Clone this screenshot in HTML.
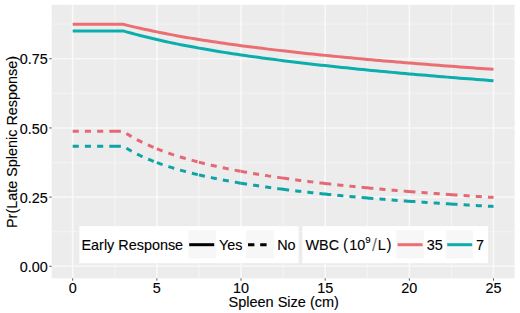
<!DOCTYPE html>
<html><head><meta charset="utf-8"><style>
html,body{margin:0;padding:0;background:#fff;}
svg{display:block;}
text{font-family:"Liberation Sans",sans-serif;stroke:#000;stroke-width:0.12px;}
</style></head><body>
<svg width="520" height="313" viewBox="0 0 520 313">
<rect x="51.66" y="4.8" width="462.90" height="273.50" fill="#ECECEC"/>
<g stroke-width="1.2" fill="none"><line x1="51.66" x2="514.56" y1="231.71" y2="231.71" stroke="#F2F2F2"/><line x1="51.66" x2="514.56" y1="162.54" y2="162.54" stroke="#F2F2F2"/><line x1="51.66" x2="514.56" y1="93.36" y2="93.36" stroke="#F2F2F2"/><line x1="51.66" x2="514.56" y1="24.19" y2="24.19" stroke="#F2F2F2"/><line x1="114.78" x2="114.78" y1="4.8" y2="278.3" stroke="#F4F4F4"/><line x1="198.94" x2="198.94" y1="4.8" y2="278.3" stroke="#F4F4F4"/><line x1="283.10" x2="283.10" y1="4.8" y2="278.3" stroke="#F4F4F4"/><line x1="367.26" x2="367.26" y1="4.8" y2="278.3" stroke="#F4F4F4"/><line x1="451.42" x2="451.42" y1="4.8" y2="278.3" stroke="#F4F4F4"/></g>
<g stroke-width="1.6" fill="none"><line x1="51.66" x2="514.56" y1="266.30" y2="266.30" stroke="#F7F7F7"/><line x1="51.66" x2="514.56" y1="197.12" y2="197.12" stroke="#F7F7F7"/><line x1="51.66" x2="514.56" y1="127.95" y2="127.95" stroke="#F7F7F7"/><line x1="51.66" x2="514.56" y1="58.78" y2="58.78" stroke="#F7F7F7"/><line x1="72.70" x2="72.70" y1="4.8" y2="278.3" stroke="#F9F9F9"/><line x1="156.86" x2="156.86" y1="4.8" y2="278.3" stroke="#F9F9F9"/><line x1="241.02" x2="241.02" y1="4.8" y2="278.3" stroke="#F9F9F9"/><line x1="325.18" x2="325.18" y1="4.8" y2="278.3" stroke="#F9F9F9"/><line x1="409.34" x2="409.34" y1="4.8" y2="278.3" stroke="#F9F9F9"/><line x1="493.50" x2="493.50" y1="4.8" y2="278.3" stroke="#F9F9F9"/></g>
<path d="M72.70,131.35 L74.38,131.35 L76.07,131.35 L77.75,131.35 L79.43,131.35 L81.12,131.35 L82.80,131.35 L84.48,131.35 L86.17,131.35 L87.85,131.35 L89.53,131.35 L91.22,131.35 L92.90,131.35 L94.58,131.35 L96.26,131.35 L97.95,131.35 L99.63,131.35 L101.31,131.35 L103.00,131.35 L104.68,131.35 L106.36,131.35 L108.05,131.35 L109.73,131.35 L111.41,131.35 L113.10,131.35 L114.78,131.35 M114.78,131.35 L116.46,131.35 L118.15,131.35 L119.83,131.35 L121.51,131.35 L123.20,131.35 L124.88,132.47 L126.56,133.57 L128.25,134.62 L129.93,135.65 L131.61,136.64 L133.30,137.61 L134.98,138.55 L136.66,139.46 L138.34,140.35 L140.03,141.21 L141.71,142.06 L143.39,142.88 L145.08,143.68 L146.76,144.46 L148.44,145.22 L150.13,145.97 L151.81,146.69 L153.49,147.40 L155.18,148.10 L156.86,148.78 M156.86,148.78 L158.54,149.45 L160.23,150.10 L161.91,150.74 L163.59,151.36 L165.28,151.98 L166.96,152.58 L168.64,153.17 L170.33,153.75 L172.01,154.31 L173.69,154.87 L175.38,155.42 L177.06,155.96 L178.74,156.49 L180.42,157.00 L182.11,157.51 L183.79,158.02 L185.47,158.51 L187.16,158.99 L188.84,159.47 L190.52,159.94 L192.21,160.40 L193.89,160.86 L195.57,161.30 L197.26,161.75 L198.94,162.18 M198.94,162.18 L200.62,162.61 L202.31,163.03 L203.99,163.45 L205.67,163.85 L207.36,164.26 L209.04,164.66 L210.72,165.05 L212.41,165.44 L214.09,165.82 L215.77,166.19 L217.46,166.57 L219.14,166.93 L220.82,167.30 L222.50,167.65 L224.19,168.01 L225.87,168.35 L227.55,168.70 L229.24,169.04 L230.92,169.37 L232.60,169.71 L234.29,170.03 L235.97,170.36 L237.65,170.68 L239.34,170.99 L241.02,171.30 M241.02,171.30 L242.70,171.61 L244.39,171.92 L246.07,172.22 L247.75,172.52 L249.44,172.81 L251.12,173.11 L252.80,173.40 L254.49,173.68 L256.17,173.96 L257.85,174.24 L259.54,174.52 L261.22,174.79 L262.90,175.06 L264.58,175.33 L266.27,175.60 L267.95,175.86 L269.63,176.12 L271.32,176.38 L273.00,176.63 L274.68,176.88 L276.37,177.13 L278.05,177.38 L279.73,177.63 L281.42,177.87 L283.10,178.11 M283.10,178.11 L284.78,178.35 L286.47,178.58 L288.15,178.82 L289.83,179.05 L291.52,179.28 L293.20,179.51 L294.88,179.73 L296.57,179.96 L298.25,180.18 L299.93,180.40 L301.62,180.61 L303.30,180.83 L304.98,181.04 L306.66,181.26 L308.35,181.47 L310.03,181.67 L311.71,181.88 L313.40,182.08 L315.08,182.29 L316.76,182.49 L318.45,182.69 L320.13,182.89 L321.81,183.08 L323.50,183.28 L325.18,183.47 M325.18,183.47 L326.86,183.66 L328.55,183.85 L330.23,184.04 L331.91,184.23 L333.60,184.42 L335.28,184.60 L336.96,184.78 L338.65,184.97 L340.33,185.15 L342.01,185.33 L343.70,185.50 L345.38,185.68 L347.06,185.85 L348.74,186.03 L350.43,186.20 L352.11,186.37 L353.79,186.54 L355.48,186.71 L357.16,186.88 L358.84,187.04 L360.53,187.21 L362.21,187.37 L363.89,187.53 L365.58,187.70 L367.26,187.86 M367.26,187.86 L368.94,188.02 L370.63,188.17 L372.31,188.33 L373.99,188.49 L375.68,188.64 L377.36,188.80 L379.04,188.95 L380.73,189.10 L382.41,189.25 L384.09,189.40 L385.78,189.55 L387.46,189.70 L389.14,189.85 L390.82,189.99 L392.51,190.14 L394.19,190.28 L395.87,190.43 L397.56,190.57 L399.24,190.71 L400.92,190.85 L402.61,190.99 L404.29,191.13 L405.97,191.27 L407.66,191.40 L409.34,191.54 M409.34,191.54 L411.02,191.67 L412.71,191.81 L414.39,191.94 L416.07,192.08 L417.76,192.21 L419.44,192.34 L421.12,192.47 L422.81,192.60 L424.49,192.73 L426.17,192.86 L427.86,192.98 L429.54,193.11 L431.22,193.24 L432.90,193.36 L434.59,193.49 L436.27,193.61 L437.95,193.73 L439.64,193.86 L441.32,193.98 L443.00,194.10 L444.69,194.22 L446.37,194.34 L448.05,194.46 L449.74,194.58 L451.42,194.70 M451.42,194.70 L453.10,194.81 L454.79,194.93 L456.47,195.05 L458.15,195.16 L459.84,195.27 L461.52,195.39 L463.20,195.50 L464.89,195.61 L466.57,195.73 L468.25,195.84 L469.94,195.95 L471.62,196.06 L473.30,196.17 L474.98,196.28 L476.67,196.39 L478.35,196.50 L480.03,196.60 L481.72,196.71 L483.40,196.82 L485.08,196.92 L486.77,197.03 L488.45,197.13 L490.13,197.24 L491.82,197.34 L493.50,197.44" fill="none" stroke="#E36A74" stroke-width="3.0" stroke-dasharray="6.1 6.1"/>
<path d="M72.70,146.16 L74.38,146.16 L76.07,146.16 L77.75,146.16 L79.43,146.16 L81.12,146.16 L82.80,146.16 L84.48,146.16 L86.17,146.16 L87.85,146.16 L89.53,146.16 L91.22,146.16 L92.90,146.16 L94.58,146.16 L96.26,146.16 L97.95,146.16 L99.63,146.16 L101.31,146.16 L103.00,146.16 L104.68,146.16 L106.36,146.16 L108.05,146.16 L109.73,146.16 L111.41,146.16 L113.10,146.16 L114.78,146.16 M114.78,146.16 L116.46,146.16 L118.15,146.16 L119.83,146.16 L121.51,146.16 L123.20,146.16 L124.88,147.23 L126.56,148.27 L128.25,149.27 L129.93,150.25 L131.61,151.19 L133.30,152.10 L134.98,152.99 L136.66,153.84 L138.34,154.68 L140.03,155.49 L141.71,156.28 L143.39,157.05 L145.08,157.80 L146.76,158.53 L148.44,159.25 L150.13,159.94 L151.81,160.62 L153.49,161.28 L155.18,161.93 L156.86,162.56 M156.86,162.56 L158.54,163.18 L160.23,163.79 L161.91,164.38 L163.59,164.96 L165.28,165.53 L166.96,166.08 L168.64,166.63 L170.33,167.16 L172.01,167.68 L173.69,168.20 L175.38,168.70 L177.06,169.20 L178.74,169.68 L180.42,170.16 L182.11,170.63 L183.79,171.09 L185.47,171.54 L187.16,171.99 L188.84,172.43 L190.52,172.86 L192.21,173.28 L193.89,173.69 L195.57,174.10 L197.26,174.51 L198.94,174.90 M198.94,174.90 L200.62,175.29 L202.31,175.68 L203.99,176.06 L205.67,176.43 L207.36,176.80 L209.04,177.16 L210.72,177.52 L212.41,177.87 L214.09,178.22 L215.77,178.56 L217.46,178.90 L219.14,179.23 L220.82,179.56 L222.50,179.88 L224.19,180.20 L225.87,180.52 L227.55,180.83 L229.24,181.14 L230.92,181.44 L232.60,181.74 L234.29,182.04 L235.97,182.33 L237.65,182.62 L239.34,182.91 L241.02,183.19 M241.02,183.19 L242.70,183.47 L244.39,183.74 L246.07,184.02 L247.75,184.29 L249.44,184.55 L251.12,184.81 L252.80,185.07 L254.49,185.33 L256.17,185.59 L257.85,185.84 L259.54,186.09 L261.22,186.33 L262.90,186.58 L264.58,186.82 L266.27,187.06 L267.95,187.29 L269.63,187.53 L271.32,187.76 L273.00,187.99 L274.68,188.21 L276.37,188.44 L278.05,188.66 L279.73,188.88 L281.42,189.10 L283.10,189.31 M283.10,189.31 L284.78,189.52 L286.47,189.74 L288.15,189.95 L289.83,190.15 L291.52,190.36 L293.20,190.56 L294.88,190.76 L296.57,190.96 L298.25,191.16 L299.93,191.36 L301.62,191.55 L303.30,191.74 L304.98,191.94 L306.66,192.12 L308.35,192.31 L310.03,192.50 L311.71,192.68 L313.40,192.86 L315.08,193.05 L316.76,193.23 L318.45,193.40 L320.13,193.58 L321.81,193.76 L323.50,193.93 L325.18,194.10 M325.18,194.10 L326.86,194.27 L328.55,194.44 L330.23,194.61 L331.91,194.78 L333.60,194.94 L335.28,195.11 L336.96,195.27 L338.65,195.43 L340.33,195.59 L342.01,195.75 L343.70,195.91 L345.38,196.07 L347.06,196.22 L348.74,196.38 L350.43,196.53 L352.11,196.68 L353.79,196.83 L355.48,196.98 L357.16,197.13 L358.84,197.28 L360.53,197.42 L362.21,197.57 L363.89,197.71 L365.58,197.86 L367.26,198.00 M367.26,198.00 L368.94,198.14 L370.63,198.28 L372.31,198.42 L373.99,198.56 L375.68,198.70 L377.36,198.83 L379.04,198.97 L380.73,199.10 L382.41,199.24 L384.09,199.37 L385.78,199.50 L387.46,199.63 L389.14,199.76 L390.82,199.89 L392.51,200.02 L394.19,200.15 L395.87,200.27 L397.56,200.40 L399.24,200.52 L400.92,200.65 L402.61,200.77 L404.29,200.89 L405.97,201.02 L407.66,201.14 L409.34,201.26 M409.34,201.26 L411.02,201.38 L412.71,201.50 L414.39,201.61 L416.07,201.73 L417.76,201.85 L419.44,201.96 L421.12,202.08 L422.81,202.19 L424.49,202.31 L426.17,202.42 L427.86,202.53 L429.54,202.65 L431.22,202.76 L432.90,202.87 L434.59,202.98 L436.27,203.09 L437.95,203.20 L439.64,203.30 L441.32,203.41 L443.00,203.52 L444.69,203.62 L446.37,203.73 L448.05,203.83 L449.74,203.94 L451.42,204.04 M451.42,204.04 L453.10,204.15 L454.79,204.25 L456.47,204.35 L458.15,204.45 L459.84,204.55 L461.52,204.65 L463.20,204.75 L464.89,204.85 L466.57,204.95 L468.25,205.05 L469.94,205.15 L471.62,205.24 L473.30,205.34 L474.98,205.44 L476.67,205.53 L478.35,205.63 L480.03,205.72 L481.72,205.82 L483.40,205.91 L485.08,206.00 L486.77,206.09 L488.45,206.19 L490.13,206.28 L491.82,206.37 L493.50,206.46" fill="none" stroke="#0FA3A6" stroke-width="3.0" stroke-dasharray="6.1 6.1"/>
<path d="M72.70,24.28 L123.20,24.28 L127.40,25.35 L131.61,26.37 L135.82,27.34 L140.03,28.28 L144.24,29.18 L148.44,30.05 L152.65,30.96 L156.86,31.85 L161.07,32.70 L165.28,33.54 L169.48,34.35 L173.69,35.14 L177.90,35.91 L182.11,36.66 L186.32,37.40 L190.52,38.11 L194.73,38.81 L198.94,39.50 L203.15,40.17 L207.36,40.83 L211.56,41.47 L215.77,42.10 L219.98,42.72 L224.19,43.33 L228.40,43.93 L232.60,44.51 L236.81,45.09 L241.02,45.66 L245.23,46.21 L249.44,46.76 L253.64,47.30 L257.85,47.83 L262.06,48.35 L266.27,48.87 L270.48,49.38 L274.68,49.88 L278.89,50.37 L283.10,50.86 L287.31,51.34 L291.52,51.81 L295.72,52.28 L299.93,52.74 L304.14,53.19 L308.35,53.64 L312.56,54.08 L316.76,54.52 L320.97,54.95 L325.18,55.38 L329.39,55.80 L333.60,56.22 L337.80,56.63 L342.01,57.04 L346.22,57.44 L350.43,57.84 L354.64,58.24 L358.84,58.63 L363.05,59.01 L367.26,59.40 L371.47,59.77 L375.68,60.15 L379.88,60.52 L384.09,60.89 L388.30,61.25 L392.51,61.61 L396.72,61.97 L400.92,62.32 L405.13,62.67 L409.34,63.01 L413.55,63.36 L417.76,63.70 L421.96,64.03 L426.17,64.37 L430.38,64.70 L434.59,65.03 L438.80,65.35 L443.00,65.67 L447.21,65.99 L451.42,66.31 L455.63,66.62 L459.84,66.94 L464.04,67.24 L468.25,67.55 L472.46,67.86 L476.67,68.16 L480.88,68.46 L485.08,68.75 L489.29,69.05 L493.50,69.34" fill="none" stroke="#EA6E72" stroke-width="3.0"/>
<path d="M72.70,30.88 L123.20,30.88 L127.40,32.11 L131.61,33.29 L135.82,34.41 L140.03,35.49 L144.24,36.53 L148.44,37.54 L152.65,38.56 L156.86,39.55 L161.07,40.52 L165.28,41.45 L169.48,42.36 L173.69,43.24 L177.90,44.10 L182.11,44.94 L186.32,45.76 L190.52,46.56 L194.73,47.34 L198.94,48.11 L203.15,48.85 L207.36,49.58 L211.56,50.30 L215.77,51.00 L219.98,51.69 L224.19,52.36 L228.40,53.02 L232.60,53.67 L236.81,54.31 L241.02,54.93 L245.23,55.55 L249.44,56.15 L253.64,56.75 L257.85,57.34 L262.06,57.91 L266.27,58.48 L270.48,59.04 L274.68,59.59 L278.89,60.13 L283.10,60.66 L287.31,61.19 L291.52,61.71 L295.72,62.22 L299.93,62.72 L304.14,63.22 L308.35,63.71 L312.56,64.20 L316.76,64.67 L320.97,65.15 L325.18,65.61 L329.39,66.07 L333.60,66.53 L337.80,66.98 L342.01,67.42 L346.22,67.86 L350.43,68.30 L354.64,68.73 L358.84,69.15 L363.05,69.57 L367.26,69.99 L371.47,70.40 L375.68,70.80 L379.88,71.20 L384.09,71.60 L388.30,71.99 L392.51,72.38 L396.72,72.77 L400.92,73.15 L405.13,73.53 L409.34,73.90 L413.55,74.27 L417.76,74.64 L421.96,75.00 L426.17,75.36 L430.38,75.72 L434.59,76.07 L438.80,76.42 L443.00,76.77 L447.21,77.12 L451.42,77.46 L455.63,77.79 L459.84,78.13 L464.04,78.46 L468.25,78.79 L472.46,79.12 L476.67,79.44 L480.88,79.76 L485.08,80.08 L489.29,80.40 L493.50,80.71" fill="none" stroke="#0CADAD" stroke-width="3.0"/>
<rect x="79.4" y="226.2" width="219.2" height="37.0" fill="#fff"/>
<rect x="302.4" y="226.2" width="185.7" height="37.0" fill="#fff"/>
<rect x="188.3" y="230.3" width="27.5" height="28.2" fill="#F7F7F7"/>
<rect x="246.0" y="230.3" width="28.3" height="28.2" fill="#F7F7F7"/>
<rect x="396" y="230.3" width="28.0" height="28.2" fill="#F7F7F7"/>
<rect x="445.7" y="230.3" width="27.2" height="28.2" fill="#F7F7F7"/>
<line x1="189.2" x2="214.2" y1="244.7" y2="244.7" stroke="#000" stroke-width="3.0"/>
<line x1="248.0" x2="272.4" y1="244.7" y2="244.7" stroke="#000" stroke-width="3.0" stroke-dasharray="6.4 5.8"/>
<line x1="397.6" x2="422.6" y1="244.7" y2="244.7" stroke="#EA6E72" stroke-width="3.0"/>
<line x1="447.2" x2="472.2" y1="244.7" y2="244.7" stroke="#0CADAD" stroke-width="3.0"/>
<g font-size="14.4" fill="#000">
<text x="81.5" y="249.8">Early Response</text>
<text x="218.9" y="249.8">Yes</text>
<text x="277.2" y="249.8">No</text>
<text x="305.5" y="249.8">WBC</text>
<text x="349.2" y="249.8">10</text>
<text x="365.2" y="242.7" font-size="9.6">9</text>
<text x="377.8" y="249.8">L</text>
<text x="426.8" y="249.8">35</text>
<text x="475.9" y="249.8">7</text>
</g>
<text transform="translate(342.9,249.8) scale(1.05,1.16)" font-size="14.4" fill="#000" style="stroke:none">(</text>
<text transform="translate(386.4,249.8) scale(1.05,1.16)" font-size="14.4" fill="#000" style="stroke:none">)</text>
<text x="371.9" y="251.4" font-size="17.5" fill="#707070" style="stroke:none">/</text>
<g stroke="#5a5a5a" stroke-width="1.0"><line x1="49.26" x2="51.66" y1="266.30" y2="266.30"/><line x1="49.26" x2="51.66" y1="197.12" y2="197.12"/><line x1="49.26" x2="51.66" y1="127.95" y2="127.95"/><line x1="49.26" x2="51.66" y1="58.78" y2="58.78"/><line x1="72.70" x2="72.70" y1="278.3" y2="280.70"/><line x1="156.86" x2="156.86" y1="278.3" y2="280.70"/><line x1="241.02" x2="241.02" y1="278.3" y2="280.70"/><line x1="325.18" x2="325.18" y1="278.3" y2="280.70"/><line x1="409.34" x2="409.34" y1="278.3" y2="280.70"/><line x1="493.50" x2="493.50" y1="278.3" y2="280.70"/></g>
<g font-size="14.4" fill="#000">
<text x="47.7" y="272.00" text-anchor="end">0.00</text>
<text x="47.7" y="202.82" text-anchor="end">0.25</text>
<text x="47.7" y="133.65" text-anchor="end">0.50</text>
<text x="47.7" y="64.48" text-anchor="end">0.75</text>
<text x="72.70" y="293.4" text-anchor="middle">0</text>
<text x="156.86" y="293.4" text-anchor="middle">5</text>
<text x="241.02" y="293.4" text-anchor="middle">10</text>
<text x="325.18" y="293.4" text-anchor="middle">15</text>
<text x="409.34" y="293.4" text-anchor="middle">20</text>
<text x="493.50" y="293.4" text-anchor="middle">25</text>
</g>
<text x="283.7" y="306.9" text-anchor="middle" font-size="14.5" fill="#000">Spleen Size (cm)</text>
<text transform="translate(16.8,142.0) rotate(-90)" x="0" y="0" text-anchor="middle" font-size="14.4" fill="#000">Pr(Late Splenic Response)</text>
</svg></body></html>
